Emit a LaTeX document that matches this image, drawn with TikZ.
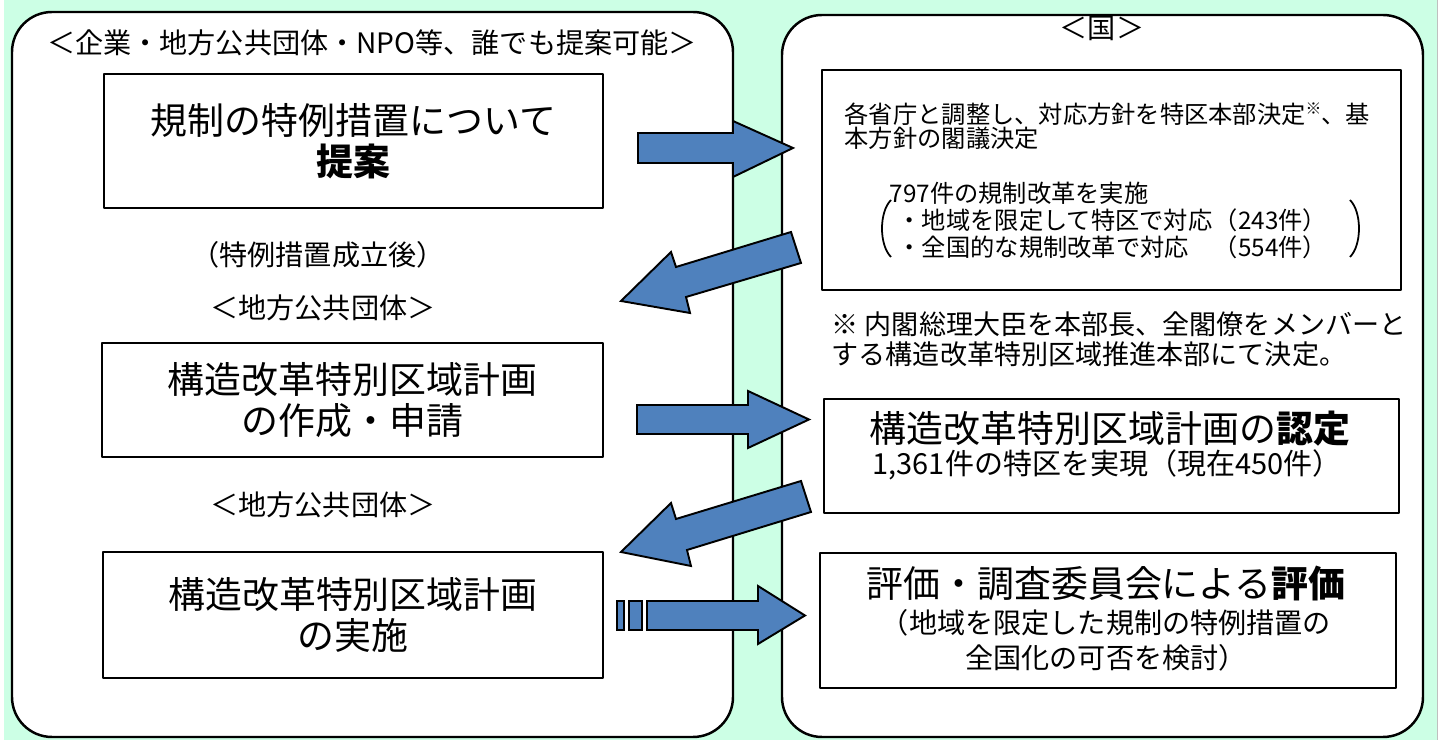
\documentclass[tikz,border=0pt]{standalone}
\usepackage{fontspec}
\setmainfont{Noto Sans CJK JP}
\usetikzlibrary{positioning}
\definecolor{mint}{HTML}{CCFFE5}
\definecolor{arrowblue}{HTML}{4F81BD}
\begin{document}
\begin{tikzpicture}[x=0.01cm,y=-0.01cm,line join=round,
  panel/.style={draw,line width=0.7pt,fill=white,rounded corners=0.4cm},
  stepbox/.style={draw,line width=0.5pt,fill=white,inner sep=0pt,align=center},
  blockarrow/.style={draw,line width=0.55pt,fill=arrowblue,line join=miter},
  txt/.style={inner sep=0pt},
  txtbig/.style={font=\fontsize{10.5pt}{11.8pt}\selectfont},
  txtmid/.style={font=\fontsize{8pt}{10pt}\selectfont},
  txtsmall/.style={font=\fontsize{6.9pt}{8pt}\selectfont}]
\useasboundingbox (0,0) rectangle (1444,740);
\fill[mint] (4,0) rectangle (1437,740);
\draw[gray!50,line width=0.4pt] (1437.5,0) -- (1437.5,740);
% two panels
\draw[panel] (12,12) rectangle (733,737);
\draw[panel] (782,15) rectangle (1423,737);
\node[txt,txtmid] (whoL) at (372,43) {＜企業・地方公共団体・NPO等、誰でも提案可能＞};
\node[txt,txtmid] (whoR) at (1102,28) {＜国＞};
% left column
\node[stepbox,txtbig,minimum width=4.99cm,minimum height=1.34cm] (propose) at (353.5,141) {規制の特例措置について\\\textbf{提案}};
\node[txt,txtmid] (after) at (318,255) {（特例措置成立後）};
\node[txt,txtmid] (localA) at (323,308) {＜地方公共団体＞};
\node[stepbox,txtbig,minimum width=5.01cm,minimum height=1.14cm] (plan) at (352.5,400) {構造改革特別区域計画\\の作成・申請};
\node[txt,txtmid] (localB) at (323,505) {＜地方公共団体＞};
\node[stepbox,txtbig,minimum width=5cm,minimum height=1.26cm] (carry) at (353,615) {構造改革特別区域計画\\の実施};
% right column
\node[stepbox,minimum width=5.79cm,minimum height=2.2cm] (policy) at (1111.5,180) {};
\node[txt,txtsmall,anchor=west] (policyA) at (844,114) {各省庁と調整し、対応方針を特区本部決定\raisebox{0.35em}{\fontsize{4.5pt}{5pt}\selectfont ※}、基};
\node[txt,txtsmall,anchor=west] (policyB) at (844,138) {本方針の閣議決定};
\node[txt,txtsmall,anchor=west] (reform) at (889,193) {797件の規制改革を実施};
\node[txt,txtsmall,anchor=west] (bulletA) at (897,220) {・地域を限定して特区で対応};
\node[txt,txtsmall,anchor=west] (bulletB) at (897,247) {・全国的な規制改革で対応};
\node[txt,txtsmall,right=0pt of bulletA] (countA) {（243件）};
\node[txt,txtsmall,anchor=west] (countB) at (countA.west |- bulletB) {（554件）};
\draw[line width=0.5pt] (891,200) .. controls (879,212) and (879,245) .. (891,257);
\draw[line width=0.5pt] (1350,200) .. controls (1362,212) and (1362,245) .. (1350,257);
\node[txt,txtmid,anchor=west,font=\fontsize{7.7pt}{8.6pt}\selectfont,align=left] (note) at (831,339) {※ 内閣総理大臣を本部長、全閣僚をメンバーと\\する構造改革特別区域推進本部にて決定。};
\node[stepbox,minimum width=5.75cm,minimum height=1.14cm] (approve) at (1111.5,456) {};
\node[txt,txtbig] (approveA) at (1110,429) {構造改革特別区域計画の\textbf{認定}};
\node[txt,font=\fontsize{8.25pt}{10pt}\selectfont] (approveB) at (1107,465) {1,361件の特区を実現（現在450件）};
\node[stepbox,minimum width=5.76cm,minimum height=1.35cm] (review) at (1108,620.5) {};
\node[txt,txtbig] (reviewA) at (1106,584) {評価・調査委員会による\textbf{評価}};
\node[txt,txtmid] (reviewB) at (1106,623) {（地域を限定した規制の特例措置の};
\node[txt,txtmid] (reviewC) at (1106,658) {全国化の可否を検討）};
% block arrows
\draw[blockarrow] (638,133) -- (733,133) -- (733,121) -- (793,148) -- (733,177) -- (733,163) -- (638,163) -- cycle;
\draw[blockarrow] (791,232) -- (676,267) -- (671,252) -- (621,301) -- (690,313) -- (686,297) -- (801,263) -- cycle;
\draw[blockarrow] (637,405) -- (748,405) -- (748,391) -- (809,419.5) -- (748,448) -- (748,434) -- (637,434) -- cycle;
\draw[blockarrow] (801,481) -- (676,519) -- (671,503) -- (621,552) -- (691,566) -- (687,550) -- (811,512) -- cycle;
\draw[blockarrow] (617,601) rectangle (624,630) (629,601) rectangle (642,630);
\draw[blockarrow] (647,601) -- (758,601) -- (758,586) -- (805,615.5) -- (758,644) -- (758,630) -- (647,630) -- cycle;
\end{tikzpicture}
\end{document}
